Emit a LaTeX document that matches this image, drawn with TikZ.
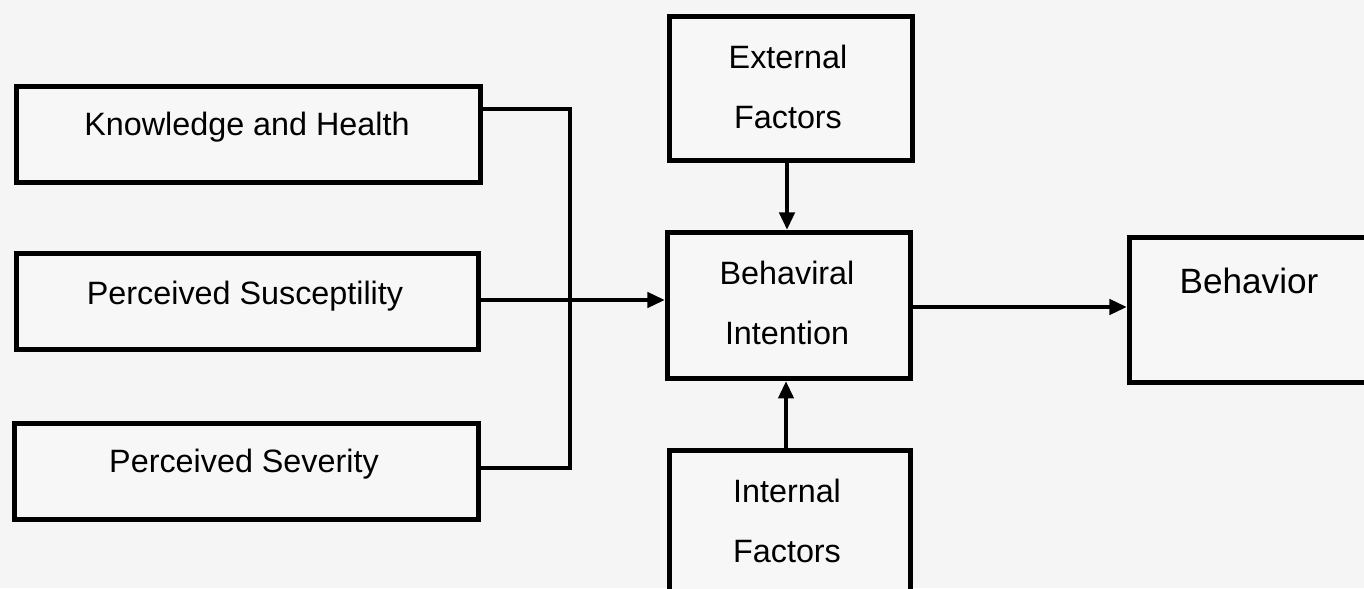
\documentclass[tikz,border=0pt]{standalone}
\usepackage{fontspec}
\setmainfont{Liberation Sans}
\usetikzlibrary{arrows.meta}
\begin{document}
\begin{tikzpicture}[x=0.02cm,y=-0.02cm,
  box/.style={draw=black, line width=2.8pt, fill=black!3, inner sep=0pt, anchor=north west},
  txt/.style={font=\fontsize{18.4}{34}\selectfont, align=center, inner sep=0pt, text=black},
  conn/.style={line width=2.8pt, draw=black},
  arr/.style={conn, -{Triangle[length=10pt,width=8.5pt]}}]
\useasboundingbox (0,0) rectangle (1364,588);
\clip (0,0) rectangle (1364,588);
\fill[black!4] (0,0) rectangle (1364,588);
% boxes
\node[box, minimum width=464*0.02cm, minimum height=96*0.02cm] (K) at (14,84) {};
\node[box, minimum width=462*0.02cm, minimum height=96*0.02cm] (S) at (14,251) {};
\node[box, minimum width=464*0.02cm, minimum height=96*0.02cm] (V) at (12,421) {};
\node[box, minimum width=243*0.02cm, minimum height=144*0.02cm] (E) at (667,14) {};
\node[box, minimum width=243*0.02cm, minimum height=146*0.02cm] (I) at (665,230) {};
\node[box, minimum width=241*0.02cm, minimum height=170*0.02cm] (N) at (667,448) {};
\node[box, minimum width=260*0.02cm, minimum height=145*0.02cm] (B) at (1127,235) {};
% texts
\node[txt] (Kt) at (247,127) {Knowledge and Health};
\node[txt] (St) at (245,296) {Perceived Susceptility};
\node[txt] (Vt) at (244,464) {Perceived Severity};
\node[txt] (Et) at (788,87) {External\\Factors};
\node[txt] (It) at (787,303) {Behaviral\\Intention};
\node[txt] (Nt) at (787,521) {Internal\\Factors};
\node[txt, font=\fontsize{20}{34}\selectfont] (Bt) at (1249,281) {Behavior};
% connectors
\coordinate (jt) at (570,109);
\coordinate (jb) at (570,468);
\draw[conn] (K.east |- jt) -- (jt) -- (jb) -- (V.east |- jb);
\draw[arr] (S.east |- 0,300) -- (I.west |- 0,300);
\draw[arr] (E.south -| 787,0) -- (I.north -| 787,0);
\draw[arr] (N.north -| 786,0) -- (I.south -| 786,0);
\draw[arr] (I.east |- 0,307) -- (B.west |- 0,307);
\end{tikzpicture}
\end{document}
